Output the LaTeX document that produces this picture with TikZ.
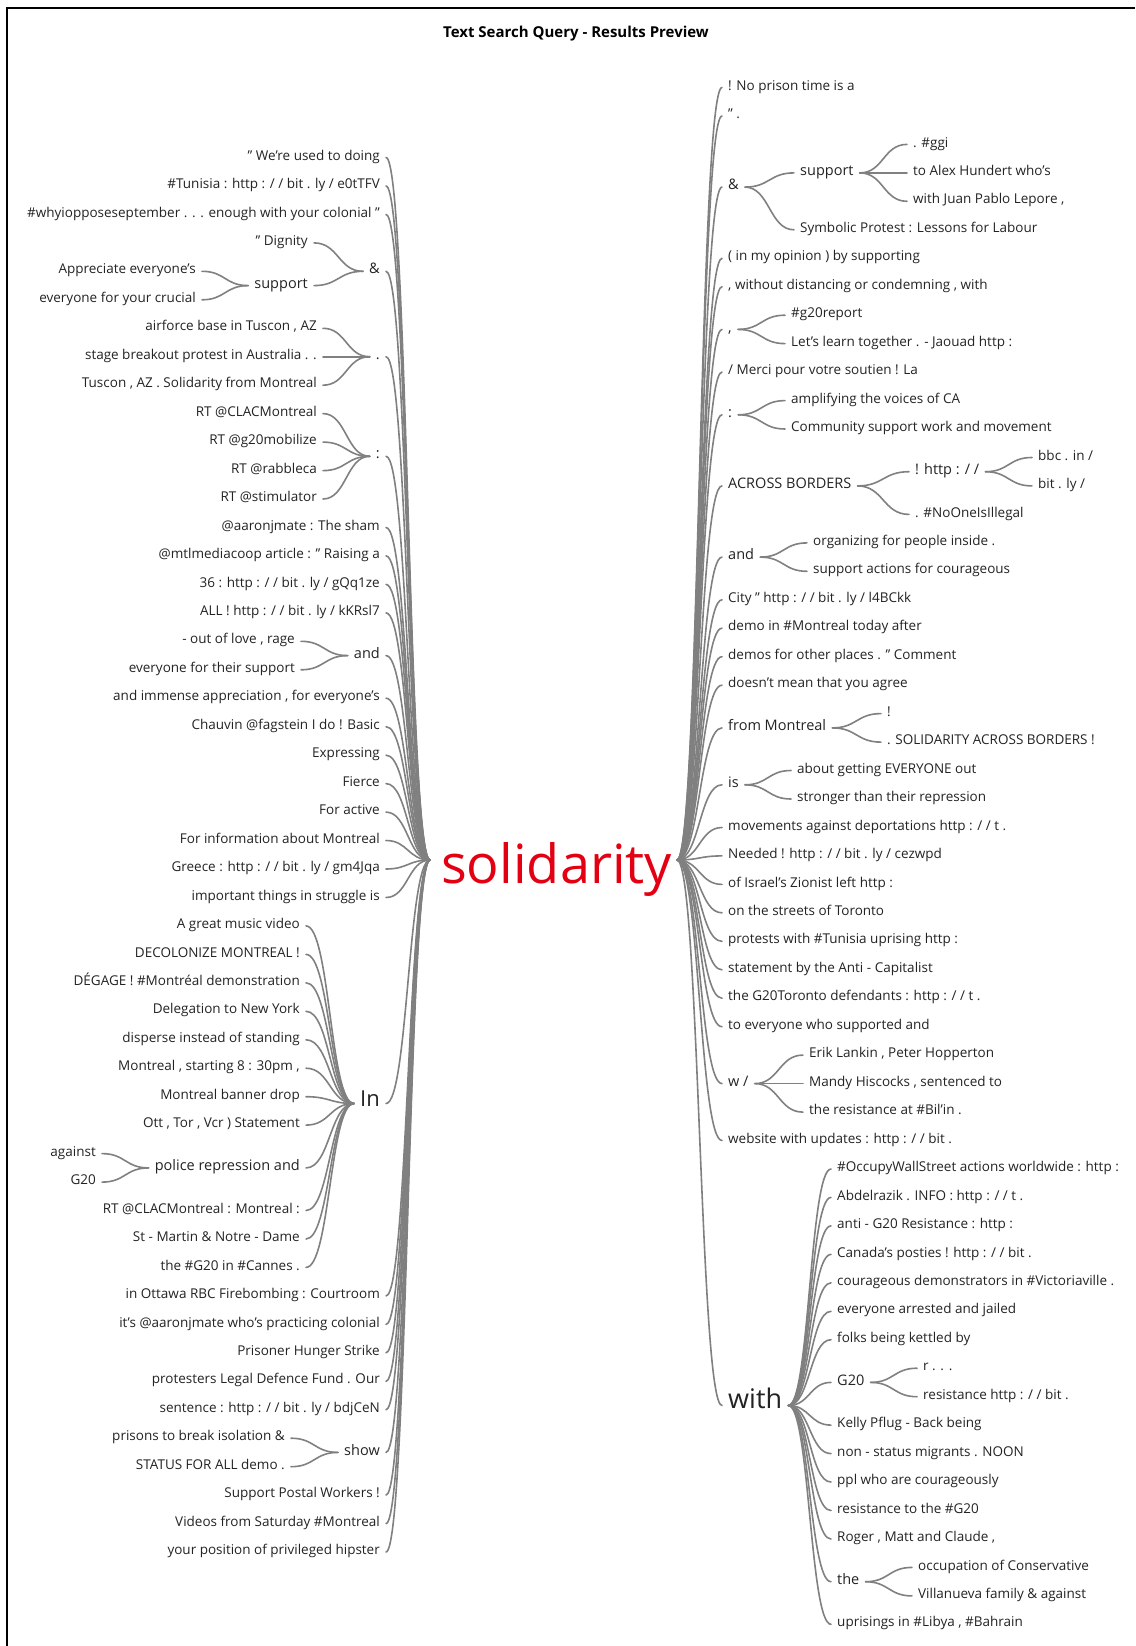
\documentclass[tikz,border=0pt]{standalone}
\usepackage{fontspec}
\setmainfont{Open Sans}
\usetikzlibrary{calc}
\definecolor{wiregray}{RGB}{128,128,128}
\definecolor{wordgray}{RGB}{35,35,35}
\definecolor{rootred}{RGB}{226,0,18}
\tikzset{
  word/.style={inner xsep=6pt, inner ysep=1pt, yshift=-2.5pt, text=wordgray, font=\fontsize{13.5}{16}\selectfont},
  lword/.style={word, anchor=mid east},
  rword/.style={word, anchor=mid west},
  big/.style={font=\fontsize{14.5}{17}\selectfont},
  wire/.style={draw=wiregray, line width=1.6pt, line cap=round},
}
% curve with flat ends, bent half way between its two ends
\newcommand{\wireto}[2]{\draw[wire] let \p1=(#1), \p2=(#2) in
  (\p1) .. controls ({(\x1+\x2)/2},\y1) and ({(\x1+\x2)/2},\y2) .. (\p2);}
\begin{document}
\begin{tikzpicture}[x=1pt,y=-1pt]
\useasboundingbox (0,0) rectangle (1135,1646);
\draw[line width=1.5pt] (7,1646) -- (7,8) -- (1135,8);
\node[font=\bfseries\fontsize{15}{17}\selectfont] (title) at (576,34) {Text Search Query - Results Preview};

% root word
\node[anchor=base west, inner sep=0pt, text=rootred, font=\fontsize{54}{60}\selectfont] (root) at (441,883) {solidarity};
\coordinate (rootL) at (430,860);
\coordinate (rootR) at (677,860);

% left side, first level
\node[lword] (l0) at (386,155.0) {" We're used to doing};
\node[lword] (l1) at (386,183.5) {\#Tunisia : http : / / bit . ly / e0tTFV};
\node[lword] (l2) at (386,211.9) {\#whyiopposeseptember . . . enough with your colonial "};
\node[lword,big] (lamp) at (386,268.8) {\&};
\node[lword,big] (ldot) at (386,354.2) {.};
\node[lword,big] (lcolon) at (386,453.8) {:};
\node[lword] (l13) at (386,525.0) {@aaronjmate : The sham};
\node[lword] (l14) at (386,553.4) {@mtlmediacoop article : " Raising a};
\node[lword] (l15) at (386,581.9) {36 : http : / / bit . ly / gQq1ze};
\node[lword] (l16) at (386,610.4) {ALL ! http : / / bit . ly / kKRsl7};
\node[lword,big] (land) at (386,653.1) {and};
\node[lword] (l19) at (386,695.7) {and immense appreciation , for everyone's};
\node[lword] (l20) at (386,724.2) {Chauvin @fagstein I do ! Basic};
\node[lword] (l21) at (386,752.7) {Expressing};
\node[lword] (l22) at (386,781.1) {Fierce};
\node[lword] (l23) at (386,809.6) {For active};
\node[lword] (l24) at (386,838.0) {For information about Montreal};
\node[lword] (l25) at (386,866.5) {Greece : http : / / bit . ly / gm4Jqa};
\node[lword] (l26) at (386,895.0) {important things in struggle is};
\node[lword,font=\fontsize{22}{24}\selectfont,yshift=-4pt] (lin) at (386,1097) {In};
\node[lword] (l40) at (386,1293.4) {in Ottawa RBC Firebombing : Courtroom};
\node[lword] (l41) at (386,1321.9) {it's @aaronjmate who's practicing colonial};
\node[lword] (l42) at (386,1350.3) {Prisoner Hunger Strike};
\node[lword] (l43) at (386,1378.8) {protesters Legal Defence Fund . Our};
\node[lword] (l44) at (386,1407.2) {sentence : http : / / bit . ly / bdjCeN};
\node[lword,big] (lshow) at (386,1449.9) {show};
\node[lword] (l47) at (386,1492.6) {Support Postal Workers !};
\node[lword] (l48) at (386,1521.1) {Videos from Saturday \#Montreal};
\node[lword] (l49) at (386,1549.5) {your position of privileged hipster};

% left side, deeper levels
\node[lword] (l3) at (314,240.4) {" Dignity};
\node[lword,big] (lsupport) at (314,283.1) {support};
\node[lword] (l4) at (202,268.8) {Appreciate everyone's};
\node[lword] (l5) at (202,297.3) {everyone for your crucial};
\node[lword] (l6) at (323,325.8) {airforce base in Tuscon , AZ};
\node[lword] (l7) at (323,354.2) {stage breakout protest in Australia . .};
\node[lword] (l8) at (323,382.7) {Tuscon , AZ . Solidarity from Montreal};
\node[lword] (l9) at (323,411.1) {RT @CLACMontreal};
\node[lword] (l10) at (323,439.6) {RT @g20mobilize};
\node[lword] (l11) at (323,468.1) {RT @rabbleca};
\node[lword] (l12) at (323,496.5) {RT @stimulator};
\node[lword] (l17) at (301,638.8) {- out of love , rage};
\node[lword] (l18) at (301,667.3) {everyone for their support};
\node[lword] (l27) at (306,923.4) {A great music video};
\node[lword] (l28) at (306,951.9) {DECOLONIZE MONTREAL !};
\node[lword] (l29) at (306,980.3) {DÉGAGE ! \#Montréal demonstration};
\node[lword] (l30) at (306,1008.8) {Delegation to New York};
\node[lword] (l31) at (306,1037.3) {disperse instead of standing};
\node[lword] (l32) at (306,1065.7) {Montreal , starting 8 : 30pm ,};
\node[lword] (l33) at (306,1094.2) {Montreal banner drop};
\node[lword] (l34) at (306,1122.6) {Ott , Tor , Vcr ) Statement};
\node[lword,big] (lpolice) at (306,1165.4) {police repression and};
\node[lword] (l35) at (102,1151.1) {against};
\node[lword] (l36) at (102,1179.6) {G20};
\node[lword] (l37) at (306,1208.0) {RT @CLACMontreal : Montreal :};
\node[lword] (l38) at (306,1236.5) {St - Martin \& Notre - Dame};
\node[lword] (l39) at (306,1264.9) {the \#G20 in \#Cannes .};
\node[lword] (l45) at (291,1435.7) {prisons to break isolation \&};
\node[lword] (l46) at (291,1464.2) {STATUS FOR ALL demo .};

% right side, first level
\node[rword] (r0) at (722,85.0) {! No prison time is a};
\node[rword] (r1) at (722,113.5) {" .};
\node[rword,big] (ramp) at (722,184.6) {\&};
\node[rword] (r6) at (722,255.8) {( in my opinion ) by supporting};
\node[rword] (r7) at (722,284.2) {, without distancing or condemning , with};
\node[rword,big] (rcomma) at (722,326.9) {,};
\node[rword] (r10) at (722,369.6) {/ Merci pour votre soutien ! La};
\node[rword,big] (rcolon) at (722,412.3) {:};
\node[rword,big] (racross) at (722,483.4) {ACROSS BORDERS};
\node[rword,big] (rand) at (722,554.6) {and};
\node[rword] (r18) at (722,597.3) {City " http : / / bit . ly / l4BCkk};
\node[rword] (r19) at (722,625.7) {demo in \#Montreal today after};
\node[rword] (r20) at (722,654.2) {demos for other places . " Comment};
\node[rword] (r21) at (722,682.7) {doesn't mean that you agree};
\node[rword,big] (rfrom) at (722,725.4) {from Montreal};
\node[rword,big] (ris) at (722,782.3) {is};
\node[rword] (r26) at (722,825.0) {movements against deportations http : / / t .};
\node[rword] (r27) at (722,853.4) {Needed ! http : / / bit . ly / cezwpd};
\node[rword] (r28) at (722,881.9) {of Israel's Zionist left http :};
\node[rword] (r29) at (722,910.3) {on the streets of Toronto};
\node[rword] (r30) at (722,938.8) {protests with \#Tunisia uprising http :};
\node[rword] (r31) at (722,967.3) {statement by the Anti - Capitalist};
\node[rword] (r32) at (722,995.7) {the G20Toronto defendants : http : / / t .};
\node[rword] (r33) at (722,1024.2) {to everyone who supported and};
\node[rword,big] (rw) at (722,1081.1) {w /};
\node[rword] (r37) at (722,1138.0) {website with updates : http : / / bit .};
\node[rword,font=\fontsize{27}{30}\selectfont,yshift=-6pt] (rwith) at (722,1397) {with};

% right side, deeper levels
\node[rword,big] (rsupport) at (794,170.4) {support};
\node[rword] (r5) at (794,227.3) {Symbolic Protest : Lessons for Labour};
\node[rword] (r2) at (907,141.9) {. \#ggi};
\node[rword] (r3) at (907,170.4) {to Alex Hundert who's};
\node[rword] (r4) at (907,198.8) {with Juan Pablo Lepore ,};
\node[rword] (r8) at (785,312.7) {\#g20report};
\node[rword] (r9) at (785,341.1) {Let's learn together . - Jaouad http :};
\node[rword] (r11) at (785,398.1) {amplifying the voices of CA};
\node[rword] (r12) at (785,426.5) {Community support work and movement};
\node[rword,big] (rhttp) at (909,469.2) {! http : / /};
\node[rword] (r15) at (909,511.9) {. \#NoOneIsIllegal};
\node[rword] (r13) at (1032,455.0) {bbc . in /};
\node[rword] (r14) at (1032,483.4) {bit . ly /};
\node[rword] (r16) at (807,540.4) {organizing for people inside .};
\node[rword] (r17) at (807,568.8) {support actions for courageous};
\node[rword] (r22) at (881,711.1) {!};
\node[rword] (r23) at (881,739.6) {. SOLIDARITY ACROSS BORDERS !};
\node[rword] (r24) at (791,768.0) {about getting EVERYONE out};
\node[rword] (r25) at (791,796.5) {stronger than their repression};
\node[rword] (r34) at (803,1052.6) {Erik Lankin , Peter Hopperton};
\node[rword] (r35) at (803,1081.1) {Mandy Hiscocks , sentenced to};
\node[rword] (r36) at (803,1109.6) {the resistance at \#Bil'in .};
\node[rword] (r38) at (831,1166.5) {\#OccupyWallStreet actions worldwide : http :};
\node[rword] (r39) at (831,1194.9) {Abdelrazik . INFO : http : / / t .};
\node[rword] (r40) at (831,1223.4) {anti - G20 Resistance : http :};
\node[rword] (r41) at (831,1251.9) {Canada's posties ! http : / / bit .};
\node[rword] (r42) at (831,1280.3) {courageous demonstrators in \#Victoriaville .};
\node[rword] (r43) at (831,1308.8) {everyone arrested and jailed};
\node[rword] (r44) at (831,1337.2) {folks being kettled by};
\node[rword,big] (rg) at (831,1379.9) {G20};
\node[rword] (r45) at (917,1365.7) {r . . .};
\node[rword] (r46) at (917,1394.2) {resistance http : / / bit .};
\node[rword] (r47) at (831,1422.6) {Kelly Pflug - Back being};
\node[rword] (r48) at (831,1451.1) {non - status migrants . NOON};
\node[rword] (r49) at (831,1479.5) {ppl who are courageously};
\node[rword] (r50) at (831,1508.0) {resistance to the \#G20};
\node[rword] (r51) at (831,1536.5) {Roger , Matt and Claude ,};
\node[rword,big] (rthe) at (831,1579.2) {the};
\node[rword] (r52) at (912,1564.9) {occupation of Conservative};
\node[rword] (r53) at (912,1593.4) {Villanueva family \& against};
\node[rword] (r54) at (831,1621.8) {uprisings in \#Libya , \#Bahrain};

% connectors, left
\foreach \w in {l0,l1,l2,lamp,ldot,lcolon,l13,l14,l15,l16,land,l19,l20,l21,l22,l23,l24,l25,l26,lin,l40,l41,l42,l43,l44,lshow,l47,l48,l49}
  \wireto{rootL}{\w.mid east};
\foreach \w in {l3,lsupport} \wireto{lamp.mid west}{\w.mid east};
\foreach \w in {l4,l5} \wireto{lsupport.mid west}{\w.mid east};
\foreach \w in {l6,l7,l8} \wireto{ldot.mid west}{\w.mid east};
\foreach \w in {l9,l10,l11,l12} \wireto{lcolon.mid west}{\w.mid east};
\foreach \w in {l17,l18} \wireto{land.mid west}{\w.mid east};
\foreach \w in {l27,l28,l29,l30,l31,l32,l33,l34,lpolice,l37,l38,l39} \wireto{lin.mid west}{\w.mid east};
\foreach \w in {l35,l36} \wireto{lpolice.mid west}{\w.mid east};
\foreach \w in {l45,l46} \wireto{lshow.mid west}{\w.mid east};

% connectors, right
\foreach \w in {r0,r1,ramp,r6,r7,rcomma,r10,rcolon,racross,rand,r18,r19,r20,r21,rfrom,ris,r26,r27,r28,r29,r30,r31,r32,r33,rw,r37,rwith}
  \wireto{rootR}{\w.mid west};
\foreach \w in {rsupport,r5} \wireto{ramp.mid east}{\w.mid west};
\foreach \w in {r2,r3,r4} \wireto{rsupport.mid east}{\w.mid west};
\foreach \w in {r8,r9} \wireto{rcomma.mid east}{\w.mid west};
\foreach \w in {r11,r12} \wireto{rcolon.mid east}{\w.mid west};
\foreach \w in {rhttp,r15} \wireto{racross.mid east}{\w.mid west};
\foreach \w in {r13,r14} \wireto{rhttp.mid east}{\w.mid west};
\foreach \w in {r16,r17} \wireto{rand.mid east}{\w.mid west};
\foreach \w in {r22,r23} \wireto{rfrom.mid east}{\w.mid west};
\foreach \w in {r24,r25} \wireto{ris.mid east}{\w.mid west};
\foreach \w in {r34,r35,r36} \wireto{rw.mid east}{\w.mid west};
\foreach \w in {r38,r39,r40,r41,r42,r43,r44,rg,r47,r48,r49,r50,r51,rthe,r54} \wireto{rwith.mid east}{\w.mid west};
\foreach \w in {r45,r46} \wireto{rg.mid east}{\w.mid west};
\foreach \w in {r52,r53} \wireto{rthe.mid east}{\w.mid west};
\end{tikzpicture}
\end{document}
